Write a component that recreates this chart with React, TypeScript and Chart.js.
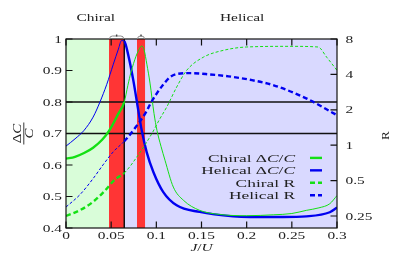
import { useEffect, useRef } from 'react';
import { Chart, registerables } from 'chart.js';

Chart.register(...registerables);

// ---- data ----
const JC = 0.0645; // chiral -> helical transition
const chiralRegion = [0, 0.0476];
const redBars = [
  [0.0476, 0.0645],
  [0.0786, 0.0875],
];
const refLines = [0.7, 0.8];

const chiralDCJ = [0, 0.01, 0.02, 0.03, 0.04, 0.048, 0.058, 0.0645, 0.0685, 0.072, 0.0775, 0.0825, 0.084, 0.0865, 0.0895, 0.093, 0.0974, 0.1007, 0.1052, 0.1096, 0.1188, 0.13, 0.148, 0.17, 0.2, 0.23, 0.25, 0.266, 0.28, 0.292, 0.3];
const chiralDCV = [0.62, 0.626, 0.638, 0.655, 0.68, 0.71, 0.763, 0.8, 0.853, 0.895, 0.945, 0.975, 0.978, 0.965, 0.92, 0.86, 0.764, 0.71, 0.659, 0.615, 0.53, 0.488, 0.456, 0.443, 0.439, 0.442, 0.446, 0.456, 0.464, 0.477, 0.503];

const helicalDCJ = [0, 0.01, 0.02, 0.03, 0.0376, 0.045, 0.0524, 0.058, 0.0615, 0.0645, 0.069, 0.0745, 0.08, 0.0838, 0.0893, 0.0967, 0.1077, 0.1225, 0.148, 0.185, 0.204, 0.24, 0.266, 0.292, 0.3];
const helicalDCV = [0.66, 0.683, 0.71, 0.752, 0.8, 0.855, 0.92, 0.968, 0.995, 0.993, 0.948, 0.869, 0.774, 0.71, 0.641, 0.578, 0.514, 0.472, 0.451, 0.437, 0.435, 0.435, 0.437, 0.45, 0.465];

const chiralRJ = [0, 0.0155, 0.03, 0.043, 0.054, 0.0645, 0.0797, 0.0952, 0.103, 0.1115, 0.1226, 0.1336, 0.152, 0.174, 0.2, 0.248, 0.279, 0.2886, 0.3];
const chiralRV = [0.25, 0.28, 0.33, 0.41, 0.51, 0.58, 0.82, 1.26, 1.63, 2.11, 3.13, 4.33, 5.6, 6.4, 6.84, 6.93, 6.84, 5.6, 4.33];

const helicalRJ = [0, 0.0155, 0.03, 0.041, 0.0524, 0.0645, 0.0764, 0.0893, 0.093, 0.1, 0.108, 0.115, 0.1226, 0.137, 0.159, 0.18, 0.2037, 0.23, 0.2665, 0.3];
const helicalRV = [0.298, 0.38, 0.52, 0.68, 0.88, 1.08, 1.4, 1.95, 2.22, 2.72, 3.3, 3.78, 4.03, 4.1, 4.0, 3.85, 3.6, 3.23, 2.49, 1.8];

const xTicks = [0, 0.05, 0.1, 0.15, 0.2, 0.25, 0.3];
const xTickLabels = ['0', '0.05', '0.1', '0.15', '0.2', '0.25', '0.3'];
const yTicks = [0.4, 0.5, 0.6, 0.7, 0.8, 0.9, 1];
const yTickLabels = ['0.4', '0.5', '0.6', '0.7', '0.8', '0.9', '1'];
const rTicks = [0.25, 0.5, 1, 2, 4, 8];
const rTickLabels = ['0.25', '0.5', '1', '2', '4', '8'];
const phaseLabels = ['Chiral', 'Helical'];
const phaseLabelJ = [0.033, 0.195];

// ---- style ----
const GREEN = '#14e014';
const BLUE = '#0000f0';
const BG_CHIRAL = '#d9fdd9';
const BG_HELICAL = '#d9d9ff';
const RED = '#ff3535';
const FONT = '"Liberation Serif", "DejaVu Serif", serif';
const SX = 1.4;

type Run = [string, boolean];

function drawRuns(ctx: CanvasRenderingContext2D, runs: Run[], x: number, y: number, align: string, size: number, sx: number) {
  const widths = runs.map(([t, it]) => {
    ctx.font = `${it ? 'italic ' : ''}${size}px ${FONT}`;
    return ctx.measureText(t).width * sx;
  });
  const total = widths.reduce((a, b) => a + b, 0);
  let cx = align === 'center' ? x - total / 2 : align === 'right' ? x - total : x;
  ctx.textAlign = 'left';
  ctx.textBaseline = 'alphabetic';
  runs.forEach(([t, it], i) => {
    ctx.save();
    ctx.font = `${it ? 'italic ' : ''}${size}px ${FONT}`;
    ctx.translate(cx, y);
    ctx.scale(sx, 1);
    ctx.fillText(t, 0, 0);
    ctx.restore();
    cx += widths[i];
  });
}

const bgPlugin = {
  id: 'bg',
  beforeDatasetsDraw(chart: any) {
    const { ctx, chartArea: { left, right, top, bottom }, scales: { x, y } } = chart;
    const px = (v: number) => x.getPixelForValue(v);
    ctx.save();
    ctx.fillStyle = BG_HELICAL;
    ctx.fillRect(left, top, right - left, bottom - top);
    ctx.fillStyle = BG_CHIRAL;
    ctx.fillRect(px(chiralRegion[0]), top, px(chiralRegion[1]) - px(chiralRegion[0]), bottom - top);
    ctx.fillStyle = RED;
    redBars.forEach(([a, b]) => ctx.fillRect(px(a), top, px(b) - px(a), bottom - top));
    ctx.strokeStyle = '#111';
    ctx.lineWidth = 1.3;
    refLines.forEach((v) => {
      const py = y.getPixelForValue(v);
      ctx.beginPath();
      ctx.moveTo(left, py);
      ctx.lineTo(right, py);
      ctx.stroke();
    });
    ctx.lineWidth = 1.5;
    ctx.beginPath();
    ctx.moveTo(px(JC), top);
    ctx.lineTo(px(JC), bottom);
    ctx.stroke();
    ctx.restore();
  },
};

const framePlugin = {
  id: 'frame',
  afterDraw(chart: any) {
    const { ctx, chartArea: { left, right, top, bottom }, scales: { x, y, yR } } = chart;
    ctx.save();
    ctx.strokeStyle = '#111';
    ctx.lineWidth = 1.2;
    ctx.strokeRect(left, top, right - left, bottom - top);
    const TL = 6.5;
    ctx.beginPath();
    xTicks.forEach((v) => {
      const px = x.getPixelForValue(v);
      ctx.moveTo(px, bottom); ctx.lineTo(px, bottom - TL);
      ctx.moveTo(px, top); ctx.lineTo(px, top + TL);
    });
    yTicks.forEach((v) => {
      const py = y.getPixelForValue(v);
      ctx.moveTo(left, py); ctx.lineTo(left + TL, py);
    });
    rTicks.forEach((v) => {
      const py = yR.getPixelForValue(v);
      ctx.moveTo(right, py); ctx.lineTo(right - TL, py);
    });
    ctx.stroke();

    // small caps above the red bars
    ctx.strokeStyle = '#8a8a8a';
    ctx.lineWidth = 1;
    redBars.forEach(([a, b]) => {
      const x0 = x.getPixelForValue(a) + 0.5;
      const x1 = x.getPixelForValue(b) - 0.5;
      ctx.beginPath();
      ctx.moveTo(x0, top);
      ctx.quadraticCurveTo(x0, top - 3, x0 + 3, top - 3);
      ctx.lineTo(x1 - 3, top - 3);
      ctx.quadraticCurveTo(x1, top - 3, x1, top);
      ctx.stroke();
      ctx.fillStyle = '#444';
      ctx.fillRect((x0 + x1) / 2 - 0.7, top - 4.5, 1.4, 2);
    });

    // tick labels
    ctx.fillStyle = '#222';
    xTicks.forEach((v, i) => drawRuns(ctx, [[xTickLabels[i], false]], x.getPixelForValue(v), bottom + 11, 'center', 11, SX));
    yTicks.forEach((v, i) => drawRuns(ctx, [[yTickLabels[i], false]], left - 4, y.getPixelForValue(v) + 3.6, 'right', 11, SX));
    rTicks.forEach((v, i) => drawRuns(ctx, [[rTickLabels[i], false]], right + 8.5, yR.getPixelForValue(v) + 3.6, 'left', 11, SX));

    // phase labels
    phaseLabels.forEach((t, i) => drawRuns(ctx, [[t, false]], x.getPixelForValue(phaseLabelJ[i]), 20.5, 'center', 11, SX));

    // x title
    drawRuns(ctx, [['J', true], ['/', false], ['U', true]], (left + right) / 2, 251, 'center', 11, SX);

    // right title
    const midY = (top + bottom) / 2;
    ctx.save();
    ctx.translate(385, midY + 2);
    ctx.rotate(-Math.PI / 2);
    drawRuns(ctx, [['R', false]], 0, 3.5, 'center', 11, 1.2);
    ctx.restore();

    // left title: fraction ΔC / C
    ctx.save();
    ctx.translate(23.3, midY);
    ctx.rotate(-Math.PI / 2);
    drawRuns(ctx, [['Δ', false], ['C', true]], 0, -2.5, 'center', 11.5, 1.3);
    drawRuns(ctx, [['C', true]], 0, 10, 'center', 11.5, 1.3);
    ctx.strokeStyle = '#222';
    ctx.lineWidth = 0.9;
    ctx.beginPath();
    ctx.moveTo(-11, 0.5);
    ctx.lineTo(11, 0.5);
    ctx.stroke();
    ctx.restore();

    // legend
    const legend: { runs: Run[]; color: string; dash: number[] }[] = [
      { runs: [['Chiral ', false], ['Δ', false], ['C', true], ['/', false], ['C', true]], color: GREEN, dash: [] },
      { runs: [['Helical ', false], ['Δ', false], ['C', true], ['/', false], ['C', true]], color: BLUE, dash: [] },
      { runs: [['Chiral R', false]], color: GREEN, dash: [5, 3] },
      { runs: [['Helical R', false]], color: BLUE, dash: [5, 3] },
    ];
    legend.forEach((item, i) => {
      const by = 161.7 + i * 12.45;
      ctx.fillStyle = '#222';
      drawRuns(ctx, item.runs, 295, by, 'right', 11, 1.58);
      ctx.save();
      ctx.strokeStyle = item.color;
      ctx.lineWidth = 2.4;
      ctx.setLineDash(item.dash);
      ctx.beginPath();
      ctx.moveTo(310, by - 3.8);
      ctx.lineTo(322, by - 3.8);
      ctx.stroke();
      ctx.restore();
    });
    ctx.restore();
  },
};

function makeDataset(J: number[], V: number[], color: string, axis: string, dashed: boolean, thickBelow: boolean) {
  const isThick = (c: any) => (c.p0.parsed.x < JC - 1e-9) === thickBelow;
  return {
    data: J.map((j, i) => ({ x: j, y: V[i] })),
    borderColor: color,
    borderWidth: 1,
    yAxisID: axis,
    pointRadius: 0,
    cubicInterpolationMode: 'monotone',
    fill: false,
    segment: {
      borderWidth: (c: any) => (isThick(c) ? 2.4 : 1),
      borderDash: (c: any) => (dashed ? (isThick(c) ? [5, 3] : [3, 2]) : []),
    },
  };
}

export default function App() {
  const ref = useRef<HTMLCanvasElement>(null);
  useEffect(() => {
    const chart = new Chart(ref.current as HTMLCanvasElement, {
      type: 'line',
      data: {
        datasets: [
          makeDataset(chiralRJ, chiralRV, GREEN, 'yR', true, true),
          makeDataset(helicalRJ, helicalRV, BLUE, 'yR', true, false),
          makeDataset(chiralDCJ, chiralDCV, GREEN, 'y', false, true),
          makeDataset(helicalDCJ, helicalDCV, BLUE, 'y', false, false),
        ] as any,
      },
      options: {
        animation: false,
        responsive: false,
        devicePixelRatio: 1,
        events: [],
        layout: { padding: { left: 66, right: 58, top: 39, bottom: 31 } },
        plugins: { legend: { display: false }, tooltip: { enabled: false } },
        scales: {
          x: { type: 'linear', min: 0, max: 0.3, display: false },
          y: { type: 'linear', position: 'left', min: 0.4, max: 1, display: false },
          yR: { type: 'logarithmic', position: 'right', min: 0.1976, max: 8, display: false },
        },
      } as any,
      plugins: [bgPlugin, framePlugin],
    });
    return () => chart.destroy();
  }, []);
  return (
    <div style={{ position: 'absolute', left: 0, top: 0, width: 395, height: 259, background: '#fff' }}>
      <canvas ref={ref} width={395} height={259} style={{ display: 'block' }} />
    </div>
  );
}
